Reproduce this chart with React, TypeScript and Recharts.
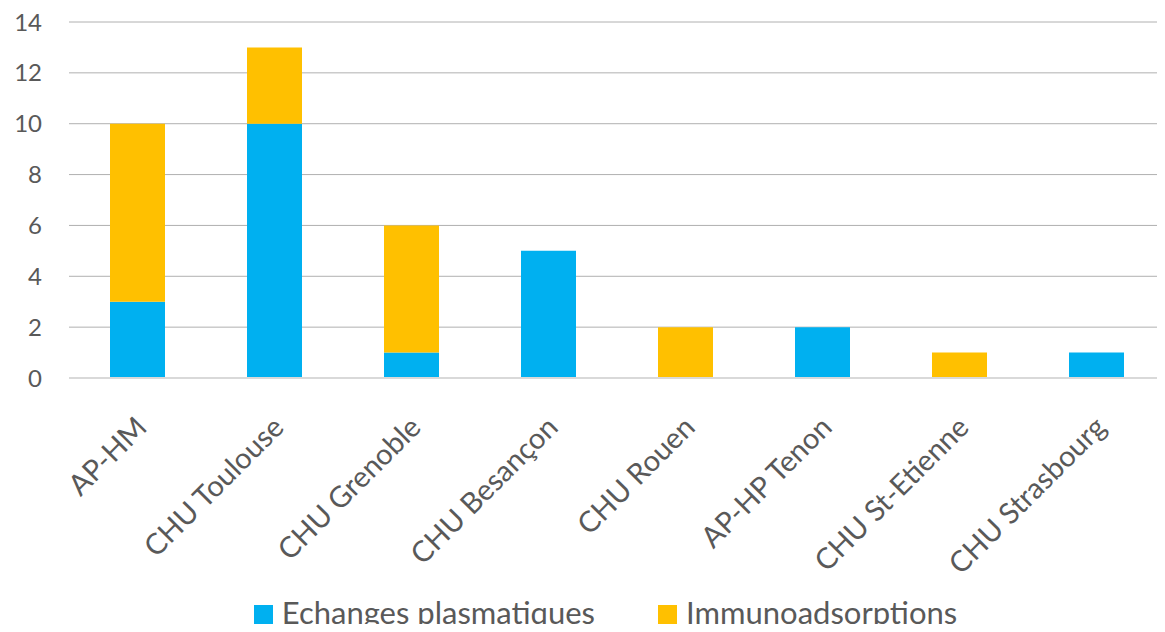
import { Bar, BarChart, CartesianGrid, Legend, XAxis, YAxis } from "recharts";

const hospitals = [
  "AP-HM",
  "CHU Toulouse",
  "CHU Grenoble",
  "CHU Besançon",
  "CHU Rouen",
  "AP-HP Tenon",
  "CHU St-Etienne",
  "CHU Strasbourg",
];
const echanges = [3, 10, 1, 5, 0, 2, 0, 1];
const immuno = [7, 3, 5, 0, 2, 0, 1, 0];
const yTicks = [0, 2, 4, 6, 8, 10, 12, 14];

const data = hospitals.map((name, i) => ({
  name,
  echanges: echanges[i],
  immuno: immuno[i],
}));

const FONT = "Lato, 'Open Sans', sans-serif";
const TEXT = "#595959";

function RotatedTick(props: any) {
  const { x, y, payload } = props;
  const ax = x + 3;
  const ay = y + 35;
  return (
    <text
      x={ax}
      y={ay}
      transform={`rotate(-45, ${ax}, ${ay})`}
      textAnchor="end"
      dominantBaseline="central"
      fontSize={29}
      fontFamily={FONT}
      fill={TEXT}
    >
      {payload.value}
    </text>
  );
}

function ChartLegend() {
  const items = [
    { label: "Echanges plasmatiques", color: "#00B0F0" },
    { label: "Immunoadsorptions", color: "#FFC000" },
  ];
  return (
    <div
      style={{
        display: "flex",
        justifyContent: "center",
        gap: 63,
        paddingLeft: 46,
        fontFamily: FONT,
        marginTop: -2,
      }}
    >
      {items.map((it) => (
        <div key={it.label} style={{ display: "flex", alignItems: "center" }}>
          <span style={{ width: 19, height: 19, background: it.color, marginRight: 9, marginTop: 4 }} />
          <span style={{ fontSize: 31, color: TEXT, lineHeight: "36px" }}>{it.label}</span>
        </div>
      ))}
    </div>
  );
}

export default function App() {
  return (
    <div style={{ margin: -8, width: 1165, height: 632, background: "#fff" }}>
      <BarChart
        width={1165}
        height={632}
        data={data}
        margin={{ top: 22, right: 0, left: 0, bottom: 0 }}
        barSize={55}
      >
        <CartesianGrid vertical={false} stroke="#B0B0B0" />
        <XAxis
          dataKey="name"
          interval={0}
          height={218}
          axisLine={{ stroke: "#D9D9D9", strokeWidth: 2 }}
          tickLine={false}
          tick={<RotatedTick />}
        />
        <YAxis
          width={69}
          domain={[0, 14]}
          ticks={yTicks}
          axisLine={false}
          tickLine={false}
          tickSize={0}
          tickMargin={27}
          tick={{ fontSize: 24, fontFamily: FONT, fill: TEXT }}
        />
        <Legend verticalAlign="bottom" height={36} content={<ChartLegend />} />
        <Bar dataKey="echanges" stackId="a" fill="#00B0F0" isAnimationActive={false} />
        <Bar dataKey="immuno" stackId="a" fill="#FFC000" isAnimationActive={false} />
      </BarChart>
    </div>
  );
}
